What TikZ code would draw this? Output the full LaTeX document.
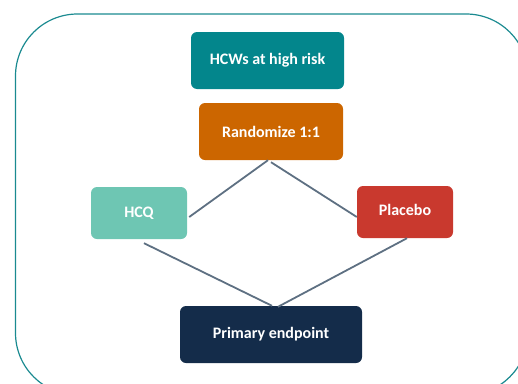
\documentclass[tikz,border=0pt]{standalone}
\usepackage{fontspec}
\setmainfont{Carlito}
\definecolor{frameteal}{HTML}{1A8A90}
\definecolor{popteal}{HTML}{03868C}
\definecolor{randorange}{HTML}{CC6600}
\definecolor{hcqmint}{HTML}{6EC6B3}
\definecolor{placred}{HTML}{C9392E}
\definecolor{endnavy}{HTML}{142C4A}
\definecolor{linkgrey}{HTML}{5E7082}
\tikzset{
  box/.style={rounded corners=6pt, inner sep=0pt, text=white,
    font=\fontsize{16}{19}\selectfont\bfseries},
  link/.style={draw=linkgrey, line width=1.8pt},
  outerframe/.style={draw=frameteal, line width=1.2pt, rounded corners=62pt}
}
\begin{document}
\begin{tikzpicture}[x=1pt, y=-1pt]
  \useasboundingbox (0,0) rectangle (518,383);
  % rounded outer frame, running past the right and bottom edges
  \draw[outerframe] (15.5,14) rectangle (528,395);

  % study flow boxes
  \node[box, fill=popteal, minimum width=153pt, minimum height=57pt] (pop) at (267.5,60.5) {HCWs at high risk};
  \node[box, fill=randorange, minimum width=144pt, minimum height=57pt] (rand) at (271,131.5) {Randomize 1:1};
  \node[box, fill=hcqmint, minimum width=96pt, minimum height=52pt] (hcq) at (139,213) {HCQ};
  \node[box, fill=placred, minimum width=96pt, minimum height=52pt] (plac) at (405,212) {\raisebox{5pt}{Placebo}};
  \node[box, fill=endnavy, minimum width=182pt, minimum height=57pt] (prim) at (271,334.5) {Primary endpoint};

  % connectors between arms
  \draw[link] ([xshift=-3pt]rand.south) -- ([xshift=2pt, yshift=-4pt]hcq.east);
  \draw[link] ([yshift=-2pt]rand.south) -- ([yshift=-5pt]plac.west);
  \draw[link] ([xshift=5pt, yshift=-4pt]hcq.south) -- ([xshift=1pt]prim.north);
  \draw[link] ([xshift=2pt]plac.south) -- ([xshift=7pt, yshift=-1pt]prim.north);
\end{tikzpicture}
\end{document}
